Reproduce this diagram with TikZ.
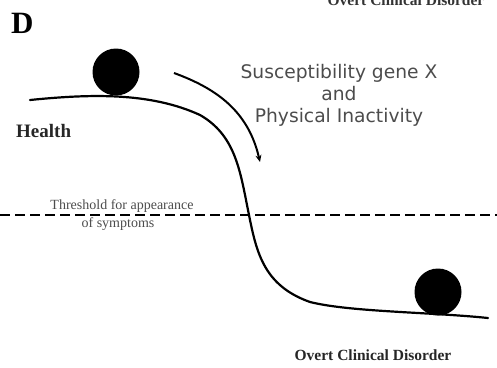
\documentclass[tikz,border=0pt]{standalone}
\usepackage{fontspec}
\setmainfont{Liberation Serif}
\newfontfamily\verd{DejaVu Sans}
\usetikzlibrary{arrows.meta}
\begin{document}
\begin{tikzpicture}[x=1pt,y=-1pt,
  lbl/.style={font=\bfseries\fontsize{15.5}{17}\selectfont, inner sep=0pt, text=black!85},
  ball/.style={fill=black},
  curve/.style={line width=2.2pt, line cap=round},
  thr/.style={font=\fontsize{14}{15}\selectfont, text=black!70, inner sep=0pt}]
\useasboundingbox (0,0) rectangle (497,367);
\begin{scope}
\clip (0,0) rectangle (497,367);
\node[lbl, anchor=base, text=black!80] (topcut) at (406,5) {Overt Clinical Disorder};
\end{scope}
\node[font=\bfseries\fontsize{31}{32}\selectfont, inner sep=0pt, anchor=base west] (D) at (11,33) {D};
% landscape curve
\draw[curve] (30,100) .. controls (90,94) and (150,92) .. (200,115)
  .. controls (235,135) and (240,170) .. (248,210)
  .. controls (256,250) and (262,285) .. (310,302)
  .. controls (350,312) and (430,312) .. (488,318);
\fill[ball] (116,72) circle (23.5);
\fill[ball] (438,292) circle (23.5);
% arrow
\coordinate (as) at (174,73);
\coordinate (ae) at (260,162);
\draw[line width=2pt, -{Stealth[length=7pt,width=6pt]}] (as) .. controls (215,88) and (248,110) .. (ae);
\node[font=\verd\fontsize{18.7}{22}\selectfont, text=black!70, align=center] (susc) at (339,95) {Susceptibility gene X\\and\\Physical Inactivity};
\node[lbl, font=\bfseries\fontsize{19}{20}\selectfont, anchor=base west] (health) at (16,137) {Health};
% threshold
\coordinate (tl) at (0,215);
\coordinate (tr) at (497,215);
\draw[line width=2.8pt, dash pattern=on 10pt off 5pt] (tl) -- (tr);
\node[thr] (thr1) at (122,206) {Threshold for appearance};
\node[thr] (thr2) at (118,224) {of symptoms};
\node[lbl] (overt) at (373,355) {Overt Clinical Disorder};
\end{tikzpicture}
\end{document}
